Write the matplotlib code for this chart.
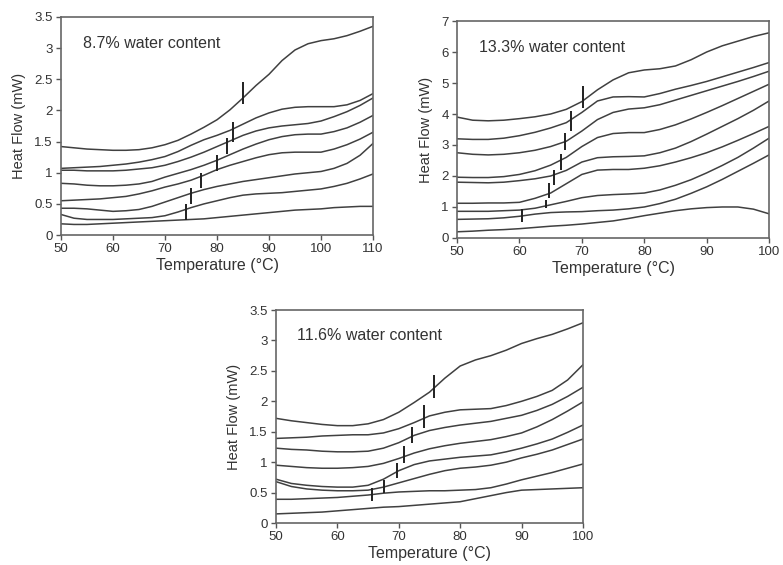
import matplotlib
matplotlib.use("Agg")
import matplotlib.pyplot as plt

plt.rcParams['font.family'] = ['Liberation Sans', 'DejaVu Sans']

# ---------------- Panel 1: 8.7% water content ----------------
p1_T = [50, 52.5, 55, 57.5, 60, 62.5, 65, 67.5, 70, 72.5, 75, 77.5, 80, 82.5, 85,
        87.5, 90, 92.5, 95, 97.5, 100, 102.5, 105, 107.5, 110]
p1_curves = [
    [1.42, 1.40, 1.38, 1.37, 1.36, 1.36, 1.37, 1.40, 1.45, 1.52, 1.62, 1.73, 1.85, 2.01, 2.20, 2.40, 2.58, 2.80, 2.97, 3.07, 3.12, 3.15, 3.20, 3.27, 3.35],
    [1.07, 1.08, 1.09, 1.10, 1.12, 1.14, 1.17, 1.21, 1.26, 1.34, 1.44, 1.53, 1.60, 1.68, 1.78, 1.88, 1.96, 2.02, 2.05, 2.06, 2.06, 2.06, 2.09, 2.16, 2.27],
    [1.04, 1.04, 1.03, 1.03, 1.03, 1.04, 1.06, 1.08, 1.12, 1.18, 1.25, 1.33, 1.42, 1.51, 1.60, 1.67, 1.72, 1.75, 1.77, 1.79, 1.83, 1.90, 1.98, 2.08, 2.20],
    [0.83, 0.82, 0.80, 0.79, 0.79, 0.80, 0.82, 0.86, 0.93, 0.99, 1.05, 1.12, 1.20, 1.29, 1.38, 1.46, 1.53, 1.58, 1.61, 1.62, 1.62, 1.66, 1.72, 1.81, 1.92],
    [0.55, 0.56, 0.57, 0.58, 0.60, 0.62, 0.66, 0.71, 0.77, 0.82, 0.88, 0.96, 1.05, 1.12, 1.18, 1.24, 1.29, 1.32, 1.33, 1.33, 1.33, 1.38, 1.45, 1.54, 1.65],
    [0.43, 0.43, 0.42, 0.40, 0.38, 0.39, 0.41, 0.46, 0.53, 0.60, 0.67, 0.73, 0.78, 0.82, 0.86, 0.89, 0.92, 0.95, 0.98, 1.00, 1.02, 1.07, 1.15, 1.28, 1.47],
    [0.33, 0.27, 0.25, 0.25, 0.25, 0.26, 0.27, 0.28, 0.31, 0.37, 0.44, 0.50, 0.55, 0.60, 0.64, 0.66, 0.67, 0.68, 0.70, 0.72, 0.74, 0.78, 0.83, 0.90, 0.98],
    [0.18, 0.17, 0.17, 0.18, 0.19, 0.20, 0.21, 0.22, 0.23, 0.24, 0.25, 0.26, 0.28, 0.30, 0.32, 0.34, 0.36, 0.38, 0.40, 0.41, 0.42, 0.44, 0.45, 0.46, 0.46],
]
p1_tg_T = [85, 83, 82, 80, 77, 75, 74]
p1_tg_lo = [2.10, 1.50, 1.30, 1.03, 0.75, 0.50, 0.24]
p1_tg_hi = [2.46, 1.82, 1.55, 1.28, 1.00, 0.75, 0.50]

# ---------------- Panel 2: 13.3% water content ----------------
p2_T = [50, 52.5, 55, 57.5, 60, 62.5, 65, 67.5, 70, 72.5, 75, 77.5, 80, 82.5, 85,
        87.5, 90, 92.5, 95, 97.5, 100]
p2_curves = [
    [3.90, 3.80, 3.78, 3.80, 3.85, 3.91, 4.00, 4.15, 4.40, 4.78, 5.10, 5.33, 5.42, 5.46, 5.55, 5.75, 6.00, 6.20, 6.35, 6.50, 6.62],
    [3.20, 3.18, 3.18, 3.22, 3.30, 3.41, 3.55, 3.72, 4.05, 4.42, 4.55, 4.56, 4.55, 4.66, 4.80, 4.92, 5.05, 5.20, 5.35, 5.50, 5.66],
    [2.75, 2.70, 2.68, 2.70, 2.75, 2.83, 2.95, 3.12, 3.45, 3.82, 4.05, 4.16, 4.20, 4.30, 4.45, 4.60, 4.75, 4.90, 5.05, 5.21, 5.38],
    [1.96, 1.95, 1.95, 1.98, 2.05, 2.17, 2.35, 2.60, 2.95, 3.24, 3.37, 3.40, 3.40, 3.50, 3.65, 3.84, 4.05, 4.27, 4.50, 4.73, 4.96],
    [1.80, 1.79, 1.78, 1.80, 1.85, 1.91, 2.00, 2.18, 2.45, 2.59, 2.62, 2.63, 2.65, 2.75, 2.90, 3.11, 3.35, 3.60, 3.85, 4.12, 4.42],
    [1.12, 1.12, 1.13, 1.13, 1.15, 1.28, 1.45, 1.75, 2.05, 2.19, 2.21, 2.21, 2.25, 2.33, 2.45, 2.59, 2.75, 2.94, 3.15, 3.37, 3.60],
    [0.86, 0.86, 0.86, 0.88, 0.90, 0.96, 1.07, 1.18, 1.30, 1.37, 1.40, 1.42, 1.45, 1.55, 1.70, 1.88, 2.10, 2.34, 2.60, 2.90, 3.22],
    [0.60, 0.61, 0.62, 0.65, 0.70, 0.77, 0.82, 0.84, 0.85, 0.88, 0.90, 0.94, 1.00, 1.11, 1.25, 1.44, 1.65, 1.89, 2.15, 2.41, 2.68],
    [0.20, 0.22, 0.25, 0.27, 0.30, 0.34, 0.38, 0.41, 0.45, 0.50, 0.55, 0.63, 0.72, 0.80, 0.88, 0.94, 0.98, 1.00, 1.00, 0.93, 0.78],
]
p2_tg_T = [70.2, 68.3, 67.3, 66.6, 65.6, 64.8, 64.2, 60.4]
p2_tg_lo = [4.18, 3.45, 2.85, 2.20, 1.72, 1.30, 0.96, 0.52]
p2_tg_hi = [4.90, 4.10, 3.40, 2.70, 2.20, 1.78, 1.22, 0.95]

# ---------------- Panel 3: 11.6% water content ----------------
p3_T = [50, 52.5, 55, 57.5, 60, 62.5, 65, 67.5, 70, 72.5, 75, 77.5, 80, 82.5, 85,
        87.5, 90, 92.5, 95, 97.5, 100]
p3_curves = [
    [1.72, 1.68, 1.65, 1.62, 1.60, 1.60, 1.63, 1.70, 1.82, 1.98, 2.15, 2.38, 2.58, 2.68, 2.75, 2.84, 2.95, 3.03, 3.10, 3.19, 3.29],
    [1.39, 1.40, 1.41, 1.43, 1.44, 1.45, 1.45, 1.48, 1.55, 1.65, 1.76, 1.82, 1.86, 1.87, 1.88, 1.93, 2.00, 2.08, 2.18, 2.35, 2.60],
    [1.23, 1.21, 1.20, 1.18, 1.17, 1.17, 1.18, 1.23, 1.32, 1.44, 1.52, 1.57, 1.61, 1.64, 1.67, 1.72, 1.77, 1.85, 1.95, 2.08, 2.23],
    [0.95, 0.93, 0.91, 0.90, 0.90, 0.91, 0.93, 0.98, 1.06, 1.15, 1.22, 1.27, 1.31, 1.34, 1.37, 1.42, 1.48, 1.58, 1.70, 1.84, 1.99],
    [0.72, 0.65, 0.62, 0.60, 0.59, 0.59, 0.62, 0.72, 0.86, 0.96, 1.02, 1.05, 1.08, 1.10, 1.12, 1.17, 1.23, 1.30, 1.38, 1.49, 1.61],
    [0.68, 0.60, 0.56, 0.54, 0.53, 0.53, 0.54, 0.59, 0.66, 0.73, 0.80, 0.86, 0.90, 0.92, 0.95, 1.00, 1.07, 1.13, 1.20, 1.29, 1.38],
    [0.39, 0.39, 0.40, 0.41, 0.42, 0.44, 0.46, 0.49, 0.51, 0.52, 0.53, 0.53, 0.54, 0.55, 0.58, 0.64, 0.71, 0.77, 0.83, 0.90, 0.97],
    [0.15, 0.16, 0.17, 0.18, 0.20, 0.22, 0.24, 0.26, 0.27, 0.29, 0.31, 0.33, 0.35, 0.40, 0.45, 0.50, 0.54, 0.55, 0.56, 0.57, 0.58],
]
p3_tg_T = [75.7, 74.1, 72.1, 70.9, 69.7, 67.6, 65.7]
p3_tg_lo = [2.05, 1.56, 1.31, 0.98, 0.74, 0.49, 0.36]
p3_tg_hi = [2.43, 1.94, 1.58, 1.26, 0.98, 0.71, 0.57]

panels = [
    dict(rect=[0.0779, 0.584, 0.3985, 0.386], T=p1_T, curves=p1_curves,
         tgT=p1_tg_T, lo=p1_tg_lo, hi=p1_tg_hi, xlim=(50, 110), ylim=(0, 3.5),
         xticks=[50, 60, 70, 80, 90, 100, 110],
         yticks=[0, 0.5, 1, 1.5, 2, 2.5, 3, 3.5],
         title="8.7% water content"),
    dict(rect=[0.5837, 0.5788, 0.3985, 0.384], T=p2_T, curves=p2_curves,
         tgT=p2_tg_T, lo=p2_tg_lo, hi=p2_tg_hi, xlim=(50, 100), ylim=(0, 7),
         xticks=[50, 60, 70, 80, 90, 100],
         yticks=[0, 1, 2, 3, 4, 5, 6, 7],
         title="13.3% water content"),
    dict(rect=[0.3525, 0.0743, 0.392, 0.377], T=p3_T, curves=p3_curves,
         tgT=p3_tg_T, lo=p3_tg_lo, hi=p3_tg_hi, xlim=(50, 100), ylim=(0, 3.5),
         xticks=[50, 60, 70, 80, 90, 100],
         yticks=[0, 0.5, 1, 1.5, 2, 2.5, 3, 3.5],
         title="11.6% water content"),
]

fig = plt.figure(figsize=(7.83, 5.65), dpi=100)
txt = '#333333'
for p in panels:
    ax = fig.add_axes(p['rect'])
    for c in p['curves']:
        ax.plot(p['T'], c, color='#404040', lw=1.1, solid_joinstyle='round')
    ax.vlines(p['tgT'], p['lo'], p['hi'], color='#202020', lw=1.4)
    ax.set_xlim(*p['xlim'])
    ax.set_ylim(*p['ylim'])
    ax.set_xticks(p['xticks'])
    ax.set_yticks(p['yticks'])
    ax.set_yticklabels([('%g' % v) for v in p['yticks']])
    ax.tick_params(direction='out', length=3.5, width=1, color='#555555',
                   labelsize=9.5, labelcolor=txt, pad=2.5)
    for s in ax.spines.values():
        s.set_color('#666666')
        s.set_linewidth(1.2)
    ax.set_xlabel("Temperature (°C)", fontsize=11.5, color=txt, labelpad=2)
    ax.set_ylabel("Heat Flow (mW)", fontsize=10.5, color=txt, labelpad=6)
    ax.text(0.07, 0.88, p['title'], transform=ax.transAxes, fontsize=11.5,
            color=txt, va='center', ha='left')

fig.savefig("out.png", dpi=100)
